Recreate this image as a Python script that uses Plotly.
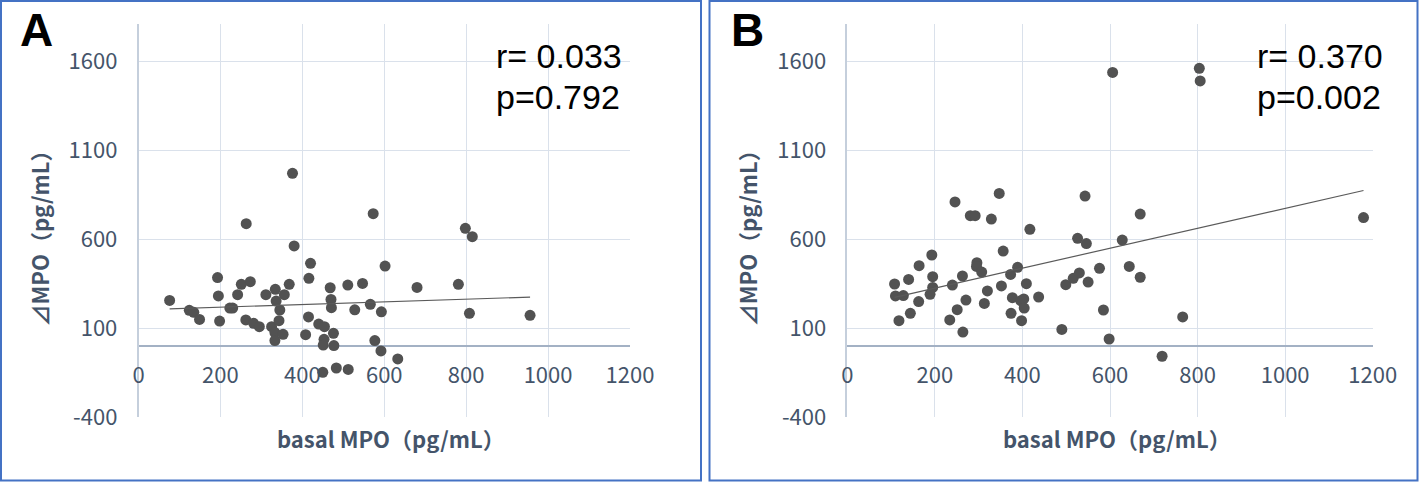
import numpy as np
import plotly.graph_objects as go

# ---------------- data ----------------
a_x = [76, 124, 135, 149, 193, 195, 198, 223, 230, 242, 251, 263, 262, 273, 281, 295, 311, 325, 334, 336,
       345, 343, 333, 333, 353, 356, 368, 376, 380, 408, 416, 420, 415, 440, 454, 453, 451, 450, 476, 477,
       483, 468, 470, 471, 512, 511, 528, 547, 566, 573, 577, 593, 602, 592, 633, 680, 798, 815, 781, 808, 956]
a_y = [257, 201, 190, 150, 385, 282, 141, 214, 214, 289, 347, 688, 147, 362, 128, 109, 289, 109, 319, 253,
       203, 143, 76, 31, 66, 289, 347, 971, 563, 64, 381, 465, 164, 124, 109, 38, 6, -147, 72, 3,
       -123, 328, 262, 216, -131, 343, 204, 352, 235, 744, 31, 193, 450, -27, -72, 330, 662, 615, 347, 184, 173]

b_x = [108, 110, 128, 118, 140, 144, 164, 163, 193, 195, 195, 189, 240, 234, 246, 251, 263, 264, 271, 281,
       292, 296, 295, 307, 313, 320, 329, 347, 356, 352, 373, 377, 374, 389, 396, 403, 404, 398, 409, 417,
       437, 490, 499, 516, 530, 526, 546, 543, 550, 576, 585, 598, 628, 644, 669, 669, 606, 804, 806, 719, 766, 1179]
b_y = [349, 282, 284, 143, 375, 184, 452, 250, 512, 390, 330, 291, 343, 147, 810, 205, 394, 79, 259, 733,
       733, 469, 448, 416, 240, 310, 714, 858, 534, 338, 403, 272, 184, 443, 255, 265, 214, 143, 351, 656,
       276, 94, 345, 381, 411, 606, 576, 843, 360, 437, 203, 40, 596, 448, 742, 387, 1538, 1561, 1490, -57, 164, 722]

x_ticks = [0, 200, 400, 600, 800, 1000, 1200]
x_tick_labels = ["0", "200", "400", "600", "800", "1000", "1200"]
y_ticks = [-400, 100, 600, 1100, 1600]
y_tick_labels = ["-400", "100", "600", "1100", "1600"]
panel_labels = ["A", "B"]
r_text = ["r= 0.033", "r= 0.370"]
p_text = ["p=0.792", "p=0.002"]
x_title = "basal MPO（pg/mL）"
y_title = "⊿MPO（pg/mL）"

# ---------------- styling / layout ----------------
W, H = 1419, 482
TICK_COLOR = "#44546A"
GRID = "#dae1eb"
AXISLINE = "#a3b1c4"
DOT = "#525252"
BORDER = "#4472C4"
Y_RANGE = [-400, 1810]
X_RANGE = [0, 1200]

px_boxes = [(138.5, 630.0), (847.3, 1372.7)]
panel_off = [0.0, 708.5]
stats_left = [495.0, 1256.0]
letter_left = [19.0, 730.0]
top_px, bot_px = 24.0, 417.3
ydom = [1 - bot_px / H, 1 - top_px / H]
zero_pos = ydom[0] + (0 - Y_RANGE[0]) / (Y_RANGE[1] - Y_RANGE[0]) * (ydom[1] - ydom[0])

fig = go.Figure()
datasets = [(a_x, a_y), (b_x, b_y)]
tick_font = dict(family="Noto Sans CJK JP, Noto Sans, sans-serif", size=22, color=TICK_COLOR)

for i, (xs, ys) in enumerate(datasets):
    xa = "x" if i == 0 else "x2"
    ya = "y" if i == 0 else "y2"
    fig.add_trace(go.Scatter(x=xs, y=ys, mode="markers", xaxis=xa, yaxis=ya,
                             marker=dict(size=11, color=DOT), showlegend=False, hoverinfo="skip"))
    k, b0 = np.polyfit(xs, ys, 1)
    lx = [min(xs), max(xs)]
    fig.add_trace(go.Scatter(x=lx, y=[k * v + b0 for v in lx], mode="lines", xaxis=xa, yaxis=ya,
                             line=dict(color="#5a5a5a", width=1.2), showlegend=False, hoverinfo="skip"))

layout = dict(width=W, height=H, margin=dict(l=0, r=0, t=0, b=0, pad=0), template="none",
              plot_bgcolor="white", paper_bgcolor="white", shapes=[], annotations=[])

def px_x(v):
    return v / W

def px_y(v):
    return 1 - v / H

for i, (l, r) in enumerate(px_boxes):
    sfx = "" if i == 0 else "2"
    xsfx = "x" if i == 0 else "x2"
    layout["xaxis" + sfx] = dict(domain=[l / W, r / W], range=X_RANGE, tickvals=x_ticks,
                                 ticktext=x_tick_labels,
                                 showgrid=True, gridcolor=GRID, gridwidth=1, zeroline=False,
                                 showline=False, ticks="", tickfont=tick_font, automargin=False,
                                 anchor="free", position=zero_pos, ticklabelstandoff=14,
                                 fixedrange=True)
    layout["yaxis" + sfx] = dict(domain=ydom, range=Y_RANGE, tickvals=y_ticks, ticktext=y_tick_labels,
                                 showgrid=True, gridcolor=GRID, gridwidth=1,
                                 zeroline=True, zerolinecolor=AXISLINE, zerolinewidth=1.5,
                                 showline=True, linecolor="#c5cfdc", linewidth=1.5, automargin=False,
                                 ticks="", tickfont=tick_font, anchor=xsfx, ticklabelstandoff=15,
                                 fixedrange=True)
    off = panel_off[i]
    layout["shapes"].append(dict(type="rect", xref="paper", yref="paper",
                                 x0=px_x(off + 1.0), x1=px_x(off + (701.0 if i == 0 else 709.0)),
                                 y0=px_y(480.5), y1=px_y(1.0),
                                 line=dict(color=BORDER, width=2)))
    layout["annotations"].append(dict(text="<b>%s</b>" % panel_labels[i], xref="paper", yref="paper",
                                      x=px_x(letter_left[i]), y=px_y(29.5), xanchor="left", yanchor="middle",
                                      showarrow=False, borderpad=0,
                                      font=dict(family="Liberation Sans Narrow, Arial Narrow, Liberation Sans",
                                                size=46, color="black")))
    layout["annotations"].append(dict(text=r_text[i], xref="paper", yref="paper",
                                      x=px_x(stats_left[i]), y=px_y(56), xanchor="left", yanchor="middle",
                                      showarrow=False, borderpad=0,
                                      font=dict(family="Liberation Sans, Arial", size=34, color="black")))
    layout["annotations"].append(dict(text=p_text[i], xref="paper", yref="paper",
                                      x=px_x(stats_left[i]), y=px_y(97), xanchor="left", yanchor="middle",
                                      showarrow=False, borderpad=0,
                                      font=dict(family="Liberation Sans, Arial", size=34, color="black")))
    layout["annotations"].append(dict(text="<b>%s</b>" % x_title, xref="paper", yref="paper",
                                      x=px_x((l + r) / 2 + 7), y=px_y(438), xanchor="center", yanchor="middle",
                                      showarrow=False,
                                      font=dict(family="Noto Sans CJK JP", size=22, color=TICK_COLOR)))
    layout["annotations"].append(dict(text="<b>%s</b>" % y_title, xref="paper", yref="paper",
                                      x=px_x(l - 100), y=px_y(233), xanchor="center", yanchor="middle",
                                      textangle=-90, showarrow=False,
                                      font=dict(family="Noto Sans CJK JP", size=22, color=TICK_COLOR)))

fig.update_layout(**layout)
fig.write_html("out.html", config={"displayModeBar": False},
               post_script="document.body.style.margin='0';document.body.style.overflow='hidden';")
